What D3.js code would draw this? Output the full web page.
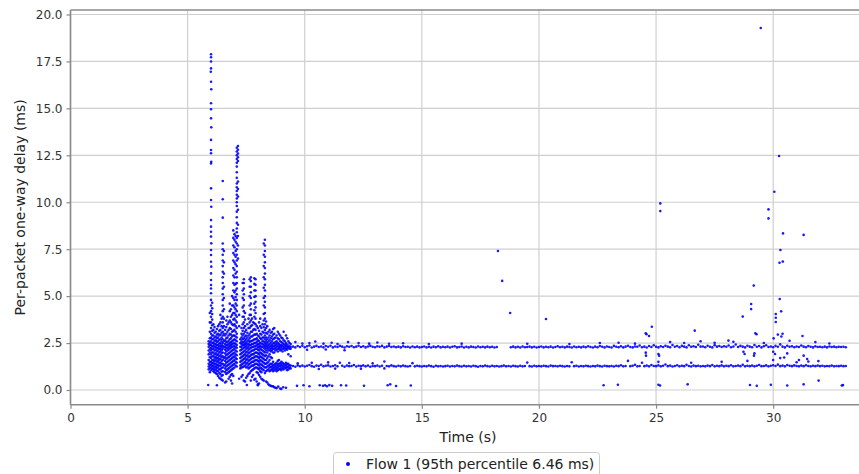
<!DOCTYPE html>
<html><head><meta charset="utf-8">
<script src="https://cdn.jsdelivr.net/npm/d3@7"></script>
<style>html,body{margin:0;padding:0;background:#fff;}svg{display:block;font-family:"DejaVu Sans",sans-serif;}</style>
</head><body>
<svg id="c" width="859" height="474"></svg>
<script>
// ---------- data ----------
const xTicks = [0, 5, 10, 15, 20, 25, 30];
const yTicks = [0, 2.5, 5, 7.5, 10, 12.5, 15, 17.5, 20];
const xLabel = "Time (s)";
const yLabel = "Per-packet one-way delay (ms)";
const legendLabel = "Flow 1 (95th percentile 6.46 ms)";

// burst region: one column of delays per time
const burstTimes = [5.9,6.0,6.1,6.2,6.3,6.4,6.5,6.55,6.6,6.7,6.8,6.9,7.0,7.1,7.15,7.2,7.3,7.4,7.5,7.6,7.7,7.8,7.9,8.0,8.1,8.2,8.3,8.4,8.5,8.6,8.7,8.8,8.9,9.0,9.1,9.2,9.3,9.4];
const burstDelays = [
 [1.1,1.25,1.4,1.6,1.9,2.1,2.3,2.45,2.6],
 [1.05,1.2,1.35,1.5,1.7,1.9,2.1,2.25,2.4,2.6,2.8,3.0,3.3,3.6,3.9,4.2,4.5,4.8],
 [1.0,1.15,1.3,1.45,1.6,1.8,2.0,2.2,2.35,2.5,2.7,2.9,3.2,3.5],
 [0.9,1.1,1.25,1.4,1.6,1.75,1.95,2.15,2.3,2.45,2.65,2.85,3.1],
 [0.75,1.0,1.2,1.35,1.55,1.7,1.9,2.1,2.25,2.4,2.6,2.8,3.0,3.4],
 [0.6,0.85,1.1,1.3,1.45,1.65,1.85,2.05,2.2,2.35,2.5,2.7,2.95,3.2,3.6,4.0],
 [0.5,0.8,1.0,1.2,1.4,1.6,1.8,2.0,2.2,2.35,2.5,2.7,2.9,3.1,3.3,3.6,3.9,4.2,4.5,4.8,5.1,5.4,5.7,6.0,6.3,6.6,6.9,7.2,7.5,7.8],
 [1.3,1.7,2.3,2.6,3.0,3.4,3.8,4.3,4.9,5.5,6.2,6.8,7.4],
 [0.4,0.95,1.15,1.35,1.55,1.75,1.95,2.15,2.3,2.45,2.65,2.9,3.2],
 [0.9,1.1,1.3,1.5,1.7,1.9,2.1,2.25,2.4,2.55,2.8,3.1,3.5,3.9],
 [0.7,1.0,1.2,1.4,1.6,1.8,2.0,2.2,2.35,2.5,2.7,3.0,3.3,3.7,4.2,4.6],
 [0.35,0.85,1.1,1.3,1.5,1.7,1.9,2.1,2.3,2.45,2.6,2.85,3.1,3.5,4.0,4.5,5.0],
 [1.2,1.4,1.6,1.8,2.0,2.2,2.35,2.5,2.7,2.9,3.2,3.5,3.8,4.1,4.4,4.8,5.2,5.6,6.0,6.4,6.8,7.2,7.6,8.0,8.3],
 [1.25,1.45,1.65,1.85,2.05,2.25,2.4,2.6,2.8,3.0,3.3,3.6,3.9,4.2,4.5,4.8,5.1,5.4,5.7,6.0,6.3,6.6,6.9,7.2,7.5,7.8,8.1,8.4,8.6,8.9,9.2,9.5,9.8,10.0,10.2,10.4,10.6,10.8,11.0,11.3,11.6,11.9,12.1,12.3,12.5,12.7,12.9],
 [7.0,7.7,8.2,8.8,9.6,10.3,10.7,11.1,12.2,12.4,12.6,12.8,13.0],
 [0.6,3.4,4.0],
 [0.7,1.2,1.35,1.55,1.75,1.95,2.15,2.3,2.45,2.6,2.8,3.0,3.3],
 [0.5,1.25,1.45,1.65,1.85,2.05,2.25,2.4,2.55,2.75,3.0,3.3,3.6,3.9,4.2,4.5,4.8,5.1,5.4,5.7,5.9],
 [0.65,1.2,1.4,1.6,1.8,2.0,2.2,2.35,2.5,2.7,2.9,3.2],
 [0.85,1.15,1.35,1.55,1.75,1.95,2.15,2.3,2.45,2.65,2.9,3.3,3.8],
 [0.5,1.0,1.25,1.45,1.65,1.85,2.05,2.25,2.4,2.6,2.85,3.1,3.4,3.7,4.0,4.3,4.6,4.9,5.2,5.5,5.8,6.0],
 [0.8,1.1,1.3,1.5,1.7,1.9,2.1,2.3,2.45,2.65,2.9,3.2,3.6],
 [0.6,1.2,1.4,1.6,1.8,2.0,2.2,2.35,2.5,2.7,2.95,3.2,3.5,3.8,4.1,4.4,4.7,5.0,5.3,5.6,5.9],
 [0.3,0.9,1.15,1.35,1.55,1.75,1.95,2.15,2.3,2.45,2.65,2.9,3.3],
 [0.7,1.0,1.2,1.4,1.6,1.8,2.0,2.2,2.35,2.5,2.75,3.0,3.4,3.8],
 [0.55,1.1,1.3,1.5,1.7,1.9,2.1,2.3,2.45,2.6,2.8,3.1,3.5],
 [0.9,1.2,1.4,1.6,1.8,2.0,2.2,2.35,2.5,2.7,2.9,3.2,3.5,3.8,4.1,4.4,4.7,5.0,5.3,5.6,5.9,6.2,6.5,6.8,7.1,7.4,7.7,8.0],
 [0.4,1.05,1.25,1.45,1.7,2.0,2.2,2.35,2.5,2.7,3.0,3.4],
 [0.25,1.0,1.2,1.35,1.6,1.9,2.15,2.3,2.45,2.65,2.9,3.2],
 [0.2,1.1,1.25,1.4,1.7,2.1,2.25,2.4,2.6,2.85,3.1],
 [0.15,1.05,1.2,1.35,2.0,2.2,2.35,2.5,2.75,3.0,3.3],
 [0.1,1.0,1.15,1.3,1.45,2.15,2.3,2.45,2.6,2.9],
 [1.1,1.25,1.4,1.6,2.2,2.3,2.45,2.7,3.0],
 [0.05,1.05,1.2,1.35,1.5,2.15,2.3,2.4,2.55,2.8],
 [1.1,1.25,1.4,2.2,2.3,2.45,2.65,3.1],
 [0.12,1.15,1.3,1.45,2.2,2.35,2.5,2.9],
 [1.1,1.25,1.4,1.9,2.25,2.35,2.6],
 [1.15,1.3,1.8,2.2,2.3,2.45]
];
// more packets of the burst, lying between the columns above
const burstFillTimes = [5.95,6.05,6.15,6.25,6.35,6.45,6.65,6.75,6.85,6.95,7.05,7.25,7.35,7.45,7.55,7.65,7.75,7.85,7.95,8.05,8.15,8.25,8.35,8.45,8.55,8.65,8.75,8.85,8.95,9.05,9.15,9.25,9.35];
const burstFillDelays = [
 [0.95,1.18,1.33,1.5,1.75,2.0,2.2,2.38,2.52,2.75,3.1,3.6,4.1],
 [1.12,1.28,1.43,1.6,1.8,2.0,2.18,2.33,2.5,2.7,2.9,3.15,3.45,3.75,4.05,4.35,4.65],
 [0.95,1.08,1.22,1.38,1.53,1.7,1.9,2.1,2.28,2.43,2.6,2.8,3.05,3.35],
 [0.85,1.02,1.18,1.33,1.5,1.68,1.85,2.05,2.22,2.38,2.55,2.75,2.95,3.25],
 [0.65,0.9,1.1,1.28,1.45,1.62,1.8,2.0,2.18,2.32,2.48,2.68,2.9,3.15,3.5],
 [0.55,0.75,0.98,1.18,1.38,1.55,1.75,1.95,2.12,2.28,2.42,2.6,2.8,3.05,3.4,3.8],
 [0.45,0.85,1.05,1.25,1.45,1.65,1.85,2.05,2.22,2.38,2.55,2.75,3.0,3.35,3.7],
 [0.6,0.95,1.15,1.35,1.55,1.75,1.95,2.15,2.3,2.45,2.62,2.9,3.2,3.6],
 [0.5,0.8,1.05,1.25,1.45,1.65,1.85,2.05,2.25,2.4,2.55,2.75,2.95,3.25,3.6,3.9,4.3],
 [0.75,1.15,1.35,1.55,1.75,1.95,2.15,2.32,2.48,2.65,2.9,3.15,3.45,3.75,4.1,4.5,4.9,5.3,5.7,6.1,6.5,6.9,7.3,7.7,8.1,8.5],
 [1.3,1.5,1.7,1.9,2.1,2.28,2.45,2.65,2.85,3.1,3.4,3.7,4.0,4.3,4.6,4.95,5.3,5.65,6.2,6.7,7.1,7.4,7.9,8.2],
 [1.15,1.3,1.5,1.7,1.9,2.1,2.3,2.5,2.7],
 [0.8,1.22,1.4,1.6,1.8,2.0,2.2,2.38,2.52,2.7,2.9,3.15,3.5,3.9,4.4,4.9,5.3,5.7],
 [0.45,1.3,1.5,1.7,1.9,2.1,2.3,2.45,2.62,2.85,3.1,3.4,3.75,4.1],
 [0.75,1.25,1.45,1.65,1.85,2.05,2.25,2.42,2.58,2.8,3.05,3.5],
 [0.9,1.2,1.4,1.6,1.8,2.0,2.2,2.38,2.55,2.75,3.0,3.3,3.6,4.0,4.5,5.0,5.5,5.9],
 [0.7,1.05,1.3,1.5,1.7,1.9,2.1,2.28,2.45,2.62,2.85,3.1,3.45,3.8],
 [0.55,1.15,1.35,1.55,1.75,1.95,2.15,2.32,2.5,2.7,2.95,3.25,3.55,3.9,4.25,4.6,4.95,5.3,5.65,5.95],
 [0.45,0.95,1.2,1.4,1.6,1.8,2.0,2.2,2.38,2.55,2.75,3.0,3.4],
 [0.35,0.8,1.1,1.3,1.5,1.7,1.9,2.1,2.28,2.42,2.6,2.85,3.15,3.6],
 [0.6,0.95,1.15,1.35,1.55,1.75,1.95,2.15,2.3,2.48,2.7,2.95,3.3],
 [0.5,1.05,1.25,1.45,1.65,1.85,2.05,2.25,2.4,2.58,2.8,3.05,3.35,3.7,4.05,4.5,4.9,5.45,6.0,6.6,7.2,7.8],
 [0.45,1.0,1.2,1.4,1.6,1.85,2.1,2.28,2.42,2.6,2.8,3.05,3.3,3.65],
 [0.3,1.1,1.3,1.5,1.8,2.1,2.25,2.4,2.58,2.8,3.1],
 [0.22,1.05,1.22,1.4,1.75,2.05,2.2,2.35,2.52,2.75,3.05],
 [1.0,1.15,1.3,1.5,2.0,2.18,2.32,2.48,2.7,2.95,3.25],
 [0.12,1.1,1.25,1.4,2.1,2.25,2.4,2.55,2.8],
 [1.05,1.2,1.35,1.55,2.05,2.2,2.35,2.5,2.75,3.1],
 [0.08,1.12,1.28,1.42,2.1,2.25,2.38,2.6,2.9],
 [1.15,1.3,1.45,2.05,2.2,2.35,2.5,2.75],
 [1.2,1.35,2.1,2.25,2.4,2.6],
 [1.05,1.22,1.38,2.15,2.28,2.42,2.75],
 [1.18,1.32,2.2,2.32,2.5]
];

// steady bands: one row per second, ten samples per row (0.1 s apart)
const bandSeconds = [9,10,11,12,13,14,15,16,17,18,19,20,21,22,23,24,25,26,27,28,29,30,31,32,33];
const upperBandDelays = [
 [null,null,null,null,null,2.31,2.27,2.34,2.29,2.36],
 [2.28,2.33,2.37,2.26,2.31,2.35,2.29,2.32,2.27,2.34],
 [2.30,2.36,2.27,2.32,2.29,2.35,2.31,2.26,2.33,2.30],
 [2.34,2.28,2.31,2.36,2.29,2.33,2.27,2.32,2.35,2.30],
 [2.28,2.33,2.30,2.35,2.27,2.31,2.34,2.29,2.32,2.28],
 [2.31,2.27,2.33,2.29,2.30,2.26,2.32,2.28,2.31,2.27],
 [2.29,2.32,2.27,2.30,2.26,2.31,2.28,2.33,2.27,2.30],
 [2.28,2.31,2.26,2.30,2.33,2.27,2.29,2.32,2.26,2.30],
 [2.27,2.31,2.29,2.26,2.32,2.28,2.30,2.27,2.31,2.28],
 [2.30,2.26,2.29,null,null,null,null,null,2.28,2.31],
 [2.27,2.30,2.26,2.32,2.28,2.29,2.31,2.27,2.30,2.26],
 [2.29,2.32,2.27,2.30,2.28,2.31,2.26,2.29,2.33,2.28],
 [2.30,2.27,2.31,2.29,2.26,2.32,2.28,2.30,2.27,2.31],
 [2.28,2.33,2.29,2.26,2.31,2.28,2.34,2.30,2.27,2.32],
 [2.29,2.26,2.35,2.30,2.28,2.33,2.27,2.31,2.36,2.29],
 [2.27,2.32,2.30,2.37,2.28,2.31,2.26,2.34,2.29,2.38],
 [2.30,2.27,2.33,2.29,2.36,2.31,2.28,2.40,2.30,2.34],
 [2.28,2.35,2.31,2.27,2.38,2.30,2.33,2.29,2.41,2.31],
 [2.32,2.28,2.36,2.30,2.27,2.39,2.31,2.34,2.29,2.33],
 [2.30,2.37,2.28,2.32,2.42,2.29,2.35,2.31,2.27,2.36],
 [2.31,2.28,2.40,2.30,2.34,2.27,2.33,2.38,2.29,2.32],
 [2.28,2.35,2.30,2.43,2.31,2.27,2.36,2.30,2.33,2.28],
 [2.32,2.29,2.37,2.31,2.28,2.34,2.30,2.27,2.33,2.29],
 [2.30,2.28,2.31,2.27,2.32,2.29,2.31,2.28,2.30,2.29],
 [2.30,2.28]
];
const lowerBandDelays = [
 [null,null,null,null,null,1.28,1.24,1.31,1.26,1.30],
 [1.25,1.29,1.33,1.27,1.24,1.30,1.28,1.34,1.26,1.29],
 [1.31,1.25,1.28,1.32,1.26,1.45,1.29,1.24,1.30,1.27],
 [1.28,1.33,1.25,1.29,1.27,1.31,1.26,1.30,1.24,1.28],
 [1.27,1.30,1.25,1.29,1.52,1.28,1.26,1.31,1.27,1.25],
 [1.29,1.26,1.30,1.27,1.25,1.28,1.43,1.26,1.29,1.27],
 [1.25,1.28,1.26,1.30,1.27,1.24,1.29,1.26,1.28,1.25],
 [1.27,1.29,1.25,1.28,1.26,1.30,1.27,1.25,1.29,1.26],
 [1.28,1.25,1.29,1.27,1.24,1.28,1.26,1.30,1.27,1.25],
 [1.29,1.26,1.28,1.25,1.27,1.30,1.26,1.28,1.25,1.29],
 [1.27,1.25,1.29,1.26,1.28,1.46,1.27,1.25,1.29,1.26],
 [1.28,1.26,1.29,1.27,1.25,1.30,1.27,1.28,1.26,1.29],
 [1.27,1.25,1.28,1.26,1.48,1.27,1.29,1.25,1.28,1.26],
 [1.29,1.27,1.25,1.28,1.26,1.30,1.27,1.25,1.29,1.27],
 [1.26,1.28,1.25,1.29,1.27,1.32,1.26,1.28,1.55,1.27],
 [1.29,1.34,1.26,1.28,1.45,1.27,1.30,1.26,1.33,1.28],
 [1.27,1.31,1.26,1.29,1.36,1.27,1.30,1.25,1.28,1.32],
 [1.26,1.29,1.27,1.34,1.28,1.25,1.30,1.27,1.29,1.26],
 [1.28,1.26,1.30,1.27,1.33,1.26,1.29,1.27,1.31,1.26],
 [1.29,1.27,1.32,1.26,1.28,1.30,1.27,1.34,1.26,1.29],
 [1.27,1.30,1.26,1.29,1.33,1.27,1.28,1.31,1.26,1.29],
 [1.32,1.28,1.35,1.27,1.30,1.26,1.33,1.29,1.27,1.31],
 [1.28,1.26,1.30,1.27,1.32,1.28,1.26,1.29,1.27,1.30],
 [1.27,1.29,1.26,1.28,1.27,1.30,1.26,1.28,1.27,1.29],
 [1.27,1.28]
];

// sparse column reaching 17.9 ms near t = 6 s, and other isolated points
const tallColumnPoints = [
 [6.0,17.88],[6.0,17.72],[6.0,17.5],[6.0,17.13],[5.99,16.95],[6.0,16.42],[6.01,16.02],[6.0,15.27],
 [6.0,14.95],[6.0,14.47],[6.01,13.99],[6.0,13.32],[6.0,12.78],[6.0,12.61],[6.01,12.16],[6.0,12.07],
 [6.0,10.74],[6.0,10.12],[6.01,9.76],[6.0,9.05],[6.0,8.7],[6.0,8.43],[6.0,8.17],[6.01,7.81],[6.0,7.46],
 [6.0,7.19],[6.0,6.83],[6.01,6.57],[6.0,6.21],[6.0,5.86],[6.0,5.59],[6.0,5.41],[6.0,5.15],
 [6.5,11.13],[6.5,10.16],[6.5,9.18]
];
const outlierPoints = [
 [5.88,0.27],[6.25,0.25],[7.53,0.27],[8.0,0.25],[8.65,0.2],[8.87,0.18],[9.08,0.15],[9.67,0.22],
 [9.95,0.25],[10.2,0.2],[10.64,0.25],[10.78,0.22],[10.87,0.25],[10.95,0.2],[11.05,0.26],[11.17,0.22],
 [11.55,0.25],[11.77,0.24],[12.53,0.22],[13.54,0.25],[13.65,0.3],[13.9,0.21],[14.53,0.24],[22.76,0.25],
 [23.37,0.28],[25.1,0.28],[25.17,0.24],[26.35,0.3],[29.01,0.27],[29.3,0.22],[29.9,0.28],[30.6,0.24],
 [31.3,0.3],[31.94,0.5],[32.93,0.24],[32.98,0.26],
 [18.25,7.4],[18.43,5.81],[18.77,4.1],[20.3,3.78],[24.56,3.02],[24.7,2.88],[24.82,3.37],[24.59,2.97],
 [25.18,9.94],[25.18,9.53],[26.65,3.16],[28.09,2.63],[28.7,3.91],[29.06,4.58],[29.06,4.31],[29.17,5.56],
 [29.24,3.02],[29.47,19.28],[29.8,9.62],[29.8,9.14],[30.05,10.56],[30.11,4.05],[30.11,3.85],[30.11,3.62],
 [30.25,12.46],[30.27,6.78],[30.41,6.84],[30.28,4.85],[30.31,7.46],[30.34,4.19],[30.42,8.34],[31.3,8.26],
 [30.02,2.75],[30.2,2.95],[30.35,2.85],[30.4,3.0],[31.25,2.88],[29.29,2.97],
 [24.57,1.83],[25.13,1.83],[28.78,1.92],[29.18,1.83],[30.08,1.92],[30.47,1.73],[31.3,1.83],[31.45,1.65],
 [31.93,1.54],[24.56,1.99],[25.1,1.92],[29.2,1.95],[30.0,2.04],[28.73,2.04],[30.6,1.95],[31.1,1.6]
];
const bandFuzzPoints = [
 [9.6,2.55],[9.9,2.48],[10.2,2.5],[10.45,2.58],[10.8,2.47],[11.15,2.52],[11.4,2.45],[11.85,2.55],
 [12.3,2.5],[12.75,2.47],[13.1,2.53],[13.6,2.46],[14.2,2.49],[15.3,2.45],[16.7,2.47],[19.5,2.46],
 [21.3,2.45],[22.6,2.5],[23.4,2.52],[24.1,2.47],[25.6,2.55],[26.2,2.5],[26.9,2.6],[27.5,2.52],
 [28.3,2.57],[29.6,2.5],[30.7,2.62],[31.8,2.55],[32.4,2.48],[10.1,2.14],[10.9,2.16],[11.7,2.12],
 [9.7,1.42],[10.3,1.45],[10.6,1.12],[11.0,1.47],[11.3,1.14],[11.9,1.44],[12.4,1.13],[12.9,1.42],
 [13.4,1.15],[25.1,1.5],[26.5,1.45],[27.8,1.5],[28.9,1.55],[30.0,1.6],[30.3,1.7],[31.0,1.48],[31.5,1.52]
];

// ---------- build point list ----------
const points = [];
burstTimes.forEach((t, i) => burstDelays[i].forEach(d => points.push([t, d])));
burstFillTimes.forEach((t, i) => burstFillDelays[i].forEach(d => points.push([t, d])));
bandSeconds.forEach((s, i) => {
  upperBandDelays[i].forEach((d, j) => { if (d !== null) points.push([s + j / 10, d]); });
  lowerBandDelays[i].forEach((d, j) => { if (d !== null) points.push([s + j / 10, d]); });
});
tallColumnPoints.forEach(p => points.push(p));
outlierPoints.forEach(p => points.push(p));
bandFuzzPoints.forEach(p => points.push(p));

// ---------- chart ----------
const svg = d3.select("#c");
const L = 70.5, R = 865, T = 10, B = 404.7;
const x = d3.scaleLinear().domain([0, 33.92]).range([L, R]);
const y = d3.scaleLinear().domain([-0.783, 20.24]).range([B, T]);

const grid = svg.append("g");
grid.selectAll("line.gx").data(xTicks).join("line")
  .attr("x1", d => x(d)).attr("x2", d => x(d)).attr("y1", T).attr("y2", B)
  .attr("stroke", "#cfcfcf").attr("stroke-width", 1.2);
grid.selectAll("line.gy").data(yTicks).join("line")
  .attr("x1", L).attr("x2", R).attr("y1", d => y(d)).attr("y2", d => y(d))
  .attr("stroke", "#cfcfcf").attr("stroke-width", 1.2);

svg.append("g").selectAll("circle").data(points).join("circle")
  .attr("cx", d => x(d[0])).attr("cy", d => y(d[1])).attr("r", 1.3)
  .attr("fill", "#0000ff").attr("fill-opacity", 0.9);

const xAxis = svg.append("g").attr("transform", `translate(0,${B})`)
  .call(d3.axisBottom(x).tickValues(xTicks).tickFormat(d3.format("d")).tickSizeOuter(0).tickSize(4).tickPadding(5));
const yAxis = svg.append("g").attr("transform", `translate(${L},0)`)
  .call(d3.axisLeft(y).tickValues(yTicks).tickFormat(d3.format(".1f")).tickSizeOuter(0).tickSize(4).tickPadding(4));
[xAxis, yAxis].forEach(a => {
  a.select(".domain").remove();
  a.selectAll(".tick line").attr("stroke", "#8a8a8a").attr("stroke-width", 1.2);
  a.selectAll(".tick text").attr("fill", "#333").style("font-size", "12px").style("font-family", "DejaVu Sans");
});
// spines (right spine lies outside the picture)
svg.append("line").attr("x1", L).attr("x2", L).attr("y1", T).attr("y2", B).attr("stroke", "#8a8a8a").attr("stroke-width", 1.6);
svg.append("line").attr("x1", L).attr("x2", R).attr("y1", B).attr("y2", B).attr("stroke", "#8a8a8a").attr("stroke-width", 1.6);
svg.append("line").attr("x1", L).attr("x2", R).attr("y1", T).attr("y2", T).attr("stroke", "#8a8a8a").attr("stroke-width", 1.6);

svg.append("text").attr("x", 468).attr("y", 442).attr("text-anchor", "middle")
  .style("font-size", "14px").attr("fill", "#222").text(xLabel);
svg.append("text").attr("transform", `translate(25,${(T + B) / 2}) rotate(-90)`).attr("text-anchor", "middle")
  .style("font-size", "14px").attr("fill", "#222").text(yLabel);

// legend
const lg = svg.append("g");
lg.append("rect").attr("x", 333.5).attr("y", 452.5).attr("width", 266).attr("height", 32).attr("rx", 3)
  .attr("fill", "#fff").attr("stroke", "#cccccc");
lg.append("circle").attr("cx", 348).attr("cy", 464).attr("r", 2).attr("fill", "#0000ff");
lg.append("text").attr("x", 366).attr("y", 469).style("font-size", "14px").attr("fill", "#222").text(legendLabel);
</script>
</body></html>
